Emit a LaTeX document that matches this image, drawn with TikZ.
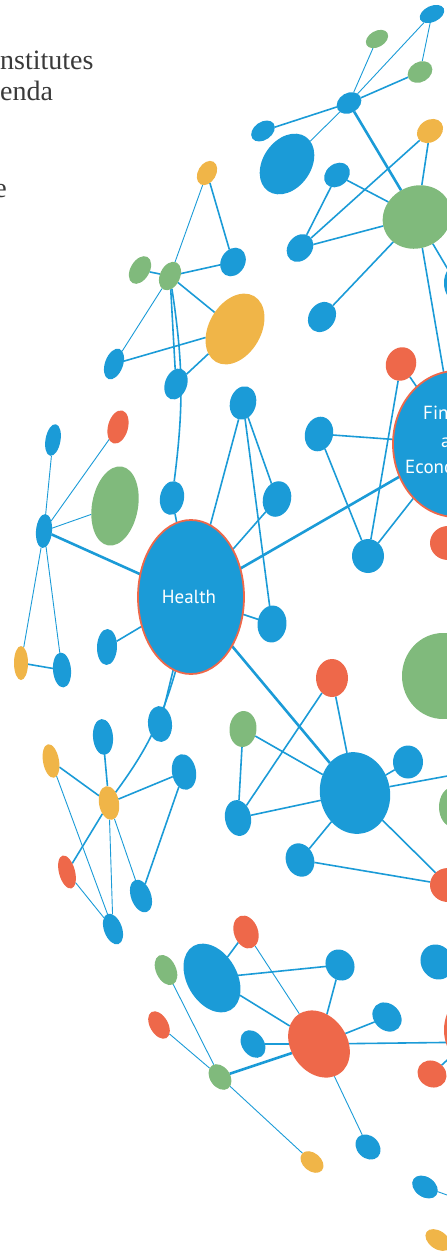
\documentclass[tikz,border=0pt]{standalone}
\usepackage{fontspec}
\setmainfont{Liberation Serif}
\newfontfamily\lblfont{PT Sans}
\usetikzlibrary{shapes.geometric}
\pgfdeclarelayer{bg}
\pgfsetlayers{bg,main}
\definecolor{nblue}{HTML}{1B9BD7}
\definecolor{ngreen}{HTML}{80BA7C}
\definecolor{norange}{HTML}{F0B548}
\definecolor{nred}{HTML}{EE684A}
\definecolor{txtgray}{HTML}{3A3A3A}
\begin{document}
\begin{tikzpicture}[x=1pt,y=-1pt,
  dot/.style={ellipse, inner sep=0pt, outer sep=0pt},
  blu/.style={dot, fill=nblue},
  grn/.style={dot, fill=ngreen},
  org/.style={dot, fill=norange},
  rd/.style={dot, fill=nred},
  hub/.style={dot, fill=nblue, draw=nred, line width=1.8pt},
  sz/.style 2 args={minimum width=#1pt, minimum height=#2pt},
  em/.style={draw=nblue, line width=1.6pt},
  et/.style={draw=nblue, line width=0.9pt},
  ek/.style={draw=nblue, line width=2.6pt},
  lbl/.style={text=white, inner sep=0pt, font=\lblfont\fontsize{19}{22}\selectfont},
  side/.style={text=txtgray, inner sep=0pt, font=\fontsize{28}{31}\selectfont}]
\useasboundingbox (0,0) rectangle (447,1251);

% side text
\node[side, anchor=base west] (t1) at (0,69) {nstitutes};
\node[side, anchor=base west] (t2) at (0,100) {enda};
\node[side, anchor=base east] (t3) at (7,197) {e};

% top cluster
\node[blu, sz={26}{16}, rotate=25] (A) at (432,14) {};
\node[grn, sz={24}{16}, rotate=30] (B) at (377,39) {};
\node[grn, sz={26}{20}, rotate=30] (C) at (420,72) {};
\node[blu, sz={26}{20}, rotate=30] (D) at (349,103) {};
\node[blu, sz={26}{18}, rotate=35] (E) at (263,131) {};
\node[blu, sz={66}{48}, rotate=55] (F) at (287,164) {};
\node[org, sz={28}{22}, rotate=35] (G) at (430,131) {};
\node[blu, sz={28}{22}, rotate=40] (H) at (337,175) {};
\node[grn, sz={70}{62}, rotate=25] (I) at (417,217) {};
\node[blu, sz={30}{24}, rotate=50] (J) at (300,248) {};
\node[blu, sz={36}{24}, rotate=90] (BQ) at (456,283) {};
\node[org, sz={26}{18}, rotate=60] (K) at (207,173) {};
\node[blu, sz={30}{24}, rotate=60] (L) at (233,262) {};
\node[grn, sz={30}{19}, rotate=60] (M) at (140,270) {};
\node[grn, sz={30}{20}, rotate=65] (N) at (170,276) {};
\node[org, sz={76}{52}, rotate=60] (O) at (235,329) {};
\node[blu, sz={32}{26}, rotate=55] (P) at (322,317) {};
\node[blu, sz={32}{18}, rotate=70] (Q) at (114,364) {};
\node[blu, sz={32}{22}, rotate=70] (R) at (176,384) {};
\node[blu, sz={34}{26}, rotate=75] (S) at (243,403) {};
\node[rd, sz={34}{30}, rotate=70] (T) at (401,364) {};
\node[blu, sz={35}{28}, rotate=75] (V) at (319,434) {};
\node[rd, sz={34}{20}, rotate=75] (W) at (118,427) {};
\node[blu, sz={32}{15}, rotate=80] (X) at (53,440) {};
\node[grn, sz={80}{46}, rotate=80] (Y) at (115,506) {};
\node[blu, sz={34}{24}, rotate=80] (Z) at (172,498) {};
\node[blu, sz={36}{28}, rotate=75] (AA) at (277,499) {};
\node[blu, sz={34}{16}, rotate=85] (AB) at (44,531) {};
\node[hub, sz={106}{154}] (HE) at (191,597) {};
\node[hub, sz={126}{146}] (U) at (456,444) {};
\node[blu, sz={34}{32}, rotate=90] (AC) at (368,556) {};
\node[rd, sz={36}{34}] (AD) at (448,543) {};
\node[blu, sz={37}{29}, rotate=85] (AE) at (272,624) {};

% middle
\node[org, sz={34}{14}, rotate=90] (AF) at (21,663) {};
\node[blu, sz={35}{18}, rotate=95] (AG) at (62,670) {};
\node[blu, sz={36}{20}, rotate=88] (AH) at (107,647) {};
\node[blu, sz={36}{24}, rotate=95] (AI) at (160,724) {};
\node[rd, sz={38}{32}, rotate=90] (AJ) at (332,678) {};
\node[grn, sz={82}{86}] (AK) at (443,676) {};
\node[grn, sz={36}{27}, rotate=85] (AL) at (243,729) {};
\node[blu, sz={36}{20}, rotate=95] (AM) at (103,737) {};
\node[org, sz={34}{16}, rotate=100] (AN) at (51,761) {};
\node[blu, sz={36}{24}, rotate=100] (AO) at (184,772) {};
\node[blu, sz={82}{70}, rotate=100] (AP) at (355,793) {};
\node[blu, sz={33}{30}, rotate=90] (AQ) at (408,762) {};
\node[org, sz={34}{20}, rotate=100] (AR) at (109,803) {};
\node[blu, sz={36}{26}, rotate=100] (AS) at (238,818) {};
\node[grn, sz={40}{28}, rotate=90] (AT) at (453,807) {};
\node[rd, sz={34}{16}, rotate=105] (AU) at (67,872) {};
\node[blu, sz={34}{28}, rotate=110] (AV) at (300,860) {};
\node[rd, sz={36}{34}] (AW) at (448,885) {};
\node[blu, sz={34}{20}, rotate=110] (AX) at (141,896) {};
\node[blu, sz={32}{18}, rotate=110] (AY) at (113,929) {};
\coordinate (cAP) at (480,770);

% bottom
\node[rd, sz={34}{24}, rotate=110] (BA) at (246,932) {};
\node[blu, sz={74}{50}, rotate=120] (BB) at (212,978) {};
\node[grn, sz={32}{20}, rotate=115] (BC) at (166,970) {};
\node[rd, sz={30}{18}, rotate=120] (BD) at (159,1025) {};
\node[blu, sz={32}{28}, rotate=120] (BE) at (340,965) {};
\node[blu, sz={32}{26}, rotate=135] (BF) at (387,1017) {};
\node[rd, sz={72}{56}, rotate=125] (BG) at (319,1044) {};
\node[blu, sz={30}{22}, rotate=125] (BH) at (253,1044) {};
\node[grn, sz={28}{20}, rotate=125] (BI) at (220,1077) {};
\node[org, sz={26}{18}, rotate=140] (BJ) at (312,1162) {};
\node[blu, sz={28}{22}, rotate=135] (BK) at (368,1147) {};
\node[blu, sz={36}{32}, rotate=120] (BL) at (437,962) {};
\node[rd, sz={72}{80}] (BM) at (480,1030) {};
\node[rd, sz={30}{26}, rotate=150] (BN) at (432,1074) {};
\node[blu, sz={28}{20}, rotate=145] (BO) at (425,1187) {};
\node[org, sz={28}{18}, rotate=145] (BP) at (438,1240) {};
\coordinate (cBO) at (480,1207);

% labels
\node[lbl, anchor=base] (hl) at (189,603) {Health};
\node[lbl, anchor=base west] (fa) at (423,419) {Finance};
\node[lbl, anchor=base west] (fb) at (441,447) {and};
\node[lbl, anchor=base west] (fc) at (405,473) {Economy};

\begin{pgfonlayer}{bg}
\draw[et] (D) -- (A);
\draw[et] (D) -- (B);
\draw[em] (D) -- (C);
\draw[et] (A) -- (C);
\draw[em] (D) -- (E);
\draw[et] (D) -- (F);
\draw[ek] (D) -- (I);
\draw[em] (G) -- (I);
\draw[em] (G) -- (J);
\draw[em] (H) -- (I);
\draw[em] (H) -- (J);
\draw[em] (J) -- (I);
\draw[em] (I) -- (P);
\draw[em] (I) -- (U);
\draw[em] (I) -- (BQ);
\draw[et] (K) -- (N);
\draw[em] (K) -- (L);
\draw[em] (N) -- (L);
\draw[em] (M) -- (N);
\draw[em] (N) -- (O);
\draw[et] (N) -- (Q);
\draw[em] (N) -- (R);
\draw[em] (N) to[bend left=8] (Z);
\draw[em] (Q) -- (O);
\draw[em] (R) -- (O);
\draw[em] (Z) -- (HE);
\draw[em] (S) -- (HE);
\draw[em] (S) -- (AA);
\draw[em] (S) -- (AE);
\draw[em] (AA) -- (HE);
\draw[ek] (HE) -- (U);
\draw[ek] (AB) -- (HE);
\draw[em] (AE) -- (HE);
\draw[em] (HE) -- (AH);
\draw[em] (HE) -- (AI);
\draw[em] (HE) to[bend left=10] (AR);
\draw[ek] (HE) -- (AP);
\draw[et] (AB) -- (X);
\draw[et] (AB) -- (W);
\draw[et] (AB) -- (Y);
\draw[et] (AB) -- (AF);
\draw[et] (AB) -- (AG);
\draw[em] (AF) -- (AG);
\draw[em] (V) -- (U);
\draw[em] (V) -- (AC);
\draw[em] (T) -- (AC);
\draw[em] (T) -- (U);
\draw[em] (AC) -- (U);
\draw[em] (AN) -- (AR);
\draw[em] (AM) -- (AR);
\draw[em] (AO) -- (AR);
\draw[em] (AR) -- (AU);
\draw[et] (AR) -- (AY);
\draw[et] (AR) -- (AX);
\draw[em] (AO) -- (AX);
\draw[et] (AN) -- (AY);
\draw[et] (AU) -- (AY);
\draw[em] (AL) -- (AS);
\draw[em] (AL) -- (AP);
\draw[em] (AJ) -- (AS);
\draw[em] (AJ) -- (AP);
\draw[em] (AS) -- (AP);
\draw[em] (AP) -- (AQ);
\draw[em] (AP) -- (AV);
\draw[em] (AP) -- (AW);
\draw[em] (AV) -- (AW);
\draw[em] (AP) -- (cAP);
\draw[em] (BA) -- (BB);
\draw[et] (BA) -- (BG);
\draw[em] (BB) -- (BE);
\draw[em] (BB) -- (BG);
\draw[em] (BE) -- (BG);
\draw[em] (BF) -- (BG);
\draw[em] (BH) -- (BG);
\draw[ek] (BI) -- (BG);
\draw[et] (BC) -- (BI);
\draw[et] (BD) -- (BI);
\draw[et] (BI) -- (BJ);
\draw[et] (BG) -- (BK);
\draw[em] (BG) -- (BM.200);
\draw[em] (BN) -- (BM);
\draw[et] (BO) -- (cBO);
\end{pgfonlayer}
\end{tikzpicture}
\end{document}
